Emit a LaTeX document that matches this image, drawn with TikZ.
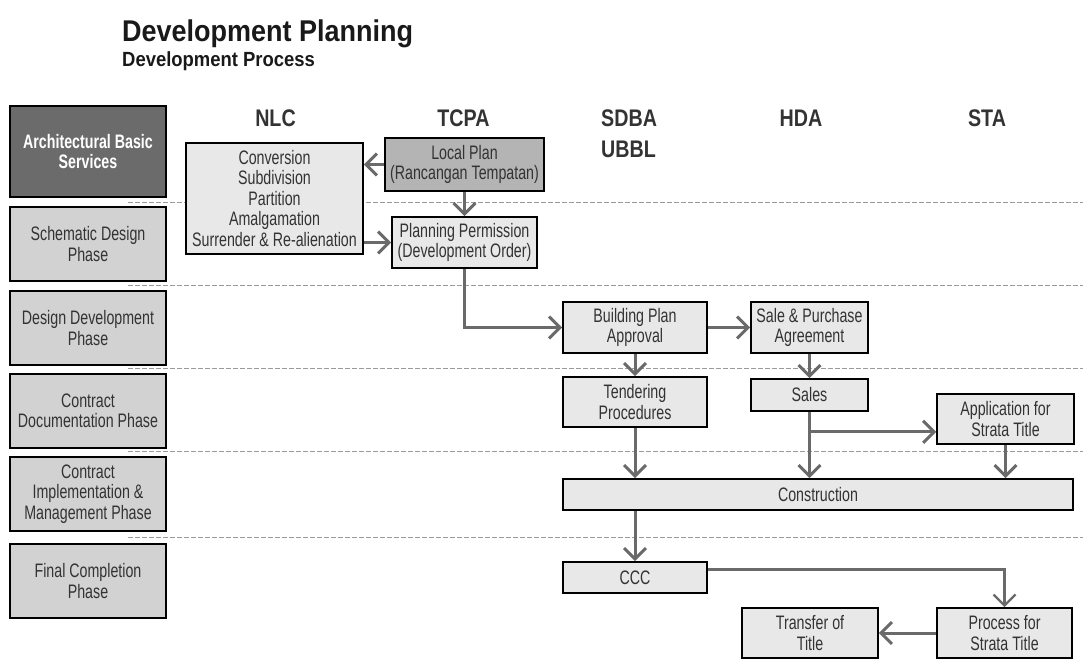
\documentclass[tikz,border=0pt]{standalone}
\usepackage{fontspec}
\setmainfont[FakeStretch=0.73]{Liberation Sans}
\newfontfamily\titlefont[FakeStretch=0.9]{Liberation Sans}
\newfontfamily\headfamily[FakeStretch=0.82]{Liberation Sans}
\usepackage{tikz}
\usetikzlibrary{arrows.meta,calc,positioning}
\definecolor{Ink}{HTML}{333333}
\definecolor{Rule}{HTML}{9A9A9A}
\definecolor{PhaseGray}{HTML}{D2D2D2}
\definecolor{BoxGray}{HTML}{E8E8E8}
\definecolor{PlanGray}{HTML}{B4B4B4}
\definecolor{BasicGray}{HTML}{6B6B6B}
\definecolor{Flow}{HTML}{6A6A6A}
\newcommand{\nodefont}{\fontsize{19.5}{20.5}\selectfont}
\newcommand{\headfont}{\headfamily\fontsize{24}{31}\selectfont\bfseries}

\begin{document}
\begin{tikzpicture}[x=1pt, y=-1pt, >={Straight Barb[length=11pt,width=22pt]},
    phasebox/.style={draw=black, line width=1.6pt, fill=PhaseGray, text=Ink, align=center, inner sep=0pt, minimum width=156pt, minimum height=74pt, font=\nodefont},
    stagebox/.style={draw=black, line width=1.6pt, fill=BoxGray, text=Ink, align=center, inner sep=0pt, font=\nodefont},
    agencyhead/.style={text=Ink, font=\headfont, inner sep=0pt, anchor=base},
    flowline/.style={->, line width=3pt, draw=Flow},
    divider/.style={draw=Rule, line width=1pt, dash pattern=on 5pt off 2pt}]
    \useasboundingbox (0,0) rectangle (1083,660);
    \node[anchor=base west, inner sep=0pt, text=black!90, font=\titlefont\fontsize{30}{31}\selectfont\bfseries] (title) at (122,42) {Development Planning};
    \node[anchor=base west, inner sep=0pt, text=black!90, font=\titlefont\fontsize{20.5}{22}\selectfont\bfseries] (subtitle) at (122,67) {Development Process};
    \foreach \y in {203,285,368,451,537}
      \draw[divider] (128,\y) -- (1083,\y);
    \node[agencyhead] (nlc) at (275.5,127) {NLC};
    \node[agencyhead] (tcpa) at (463.5,127) {TCPA};
    \node[agencyhead, anchor=base west, align=left] (sdba) at (601,158) {SDBA\\UBBL};
    \node[agencyhead] (hda) at (801,127) {HDA};
    \node[agencyhead] (sta) at (987,127) {STA};
    \node[phasebox, fill=BasicGray, text=white, font=\nodefont\bfseries, minimum height=91pt] (basic) at (88,151.5) {Architectural Basic\\Services};
    \node[phasebox] (schematic) at (88,244) {Schematic Design\\Phase};
    \node[phasebox] (designdev) at (88,328) {Design Development\\Phase};
    \node[phasebox] (contractdoc) at (88,411) {Contract\\Documentation Phase};
    \node[phasebox] (contractimpl) at (88,494) {Contract\\Implementation \&\\Management Phase};
    \node[phasebox] (final) at (88,581) {Final Completion\\Phase};
    \node[stagebox, minimum width=177pt, minimum height=111pt] (conv) at (274.5,198.5) {Conversion\\Subdivision\\Partition\\Amalgamation\\Surrender \& Re-alienation};
    \node[stagebox, fill=PlanGray, minimum width=159pt, minimum height=53pt] (local) at (464.5,164.5) {Local Plan\\(Rancangan Tempatan)};
    \node[stagebox, minimum width=145pt, minimum height=51pt] (perm) at (464.5,242.5) {Planning Permission\\(Development Order)};
    \node[stagebox, minimum width=144pt, minimum height=51pt] (bpa) at (635,327.5) {Building Plan\\Approval};
    \node[stagebox, minimum width=117pt, minimum height=51pt] (spa) at (809.5,327.5) {Sale \& Purchase\\Agreement};
    \node[stagebox, minimum width=144pt, minimum height=50pt] (tender) at (635,402) {Tendering\\Procedures};
    \node[stagebox, minimum width=117pt, minimum height=32pt] (sales) at (809.5,395) {Sales};
    \node[stagebox, minimum width=137pt, minimum height=50pt] (appst) at (1005.5,419) {Application for\\Strata Title};
    \node[stagebox, minimum width=510pt, minimum height=31pt] (constr) at (818,494.5) {Construction};
    \node[stagebox, minimum width=144pt, minimum height=31pt] (ccc) at (635,577.5) {CCC};
    \node[stagebox, minimum width=136pt, minimum height=50pt] (transfer) at (810,633) {Transfer of\\Title};
    \node[stagebox, minimum width=135pt, minimum height=50pt] (process) at (1004.5,633) {Process for\\Strata Title};
    \draw[flowline] (local.west) -- (local.west -| conv.east);
    \draw[flowline] (local.south) -- (perm.north);
    \draw[flowline] (perm.west -| conv.east) -- (perm.west);
    \draw[flowline] (perm.south) |- (bpa.west);
    \draw[flowline] (bpa.east) -- (spa.west);
    \draw[flowline] (bpa.south) -- (tender.north);
    \draw[flowline] (spa.south) -- (sales.north);
    \draw[flowline] (sales.south) -- (sales.south |- constr.north);
    \coordinate (fork) at ($(sales.south)+(0,20)$);
    \draw[flowline] (fork) -- (fork -| appst.west);
    \draw[flowline] (appst.south) -- (appst.south |- constr.north);
    \draw[flowline] (tender.south) -- (tender.south |- constr.north);
    \draw[flowline] (ccc.north |- constr.south) -- (ccc.north);
    \draw[flowline, line width=2.4pt] ($(ccc.east)+(0,-8)$) -| (process.north);
    \draw[flowline] (process.west) -- (transfer.east);
  \end{tikzpicture}
\end{document}
